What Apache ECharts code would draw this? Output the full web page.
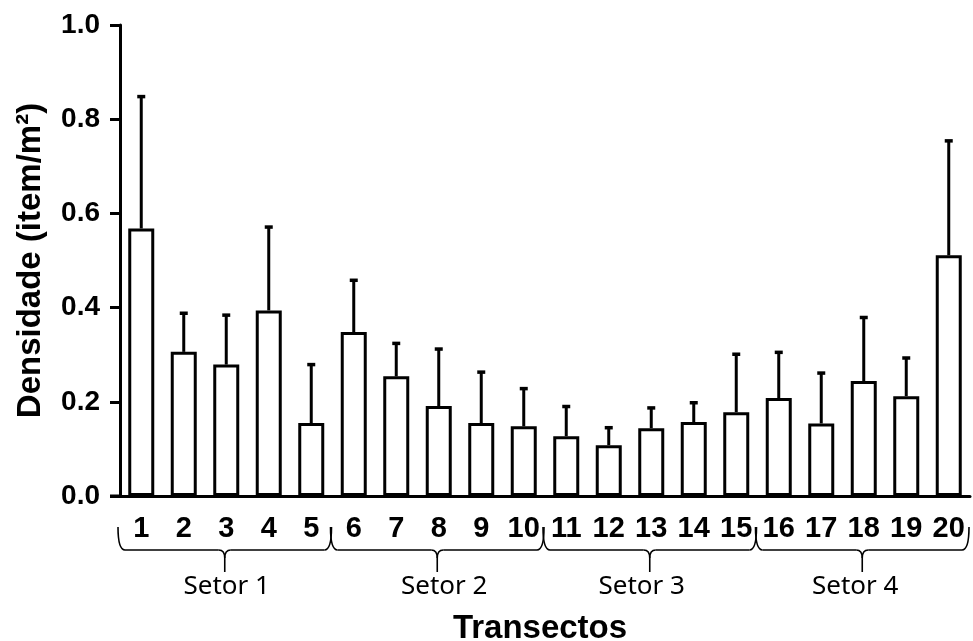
<!DOCTYPE html>
<html>
<head>
<meta charset="utf-8">
<script src="https://cdn.jsdelivr.net/npm/echarts@6/dist/echarts.min.js"></script>
<style>
  html, body { margin: 0; padding: 0; background: #fff; }
  #grafico { width: 973px; height: 641px; }
</style>
</head>
<body>
<div id="grafico"></div>
<script>
document.addEventListener("DOMContentLoaded", function () {

    // transectos 1..20
    var transectos = ['1', '2', '3', '4', '5', '6', '7', '8', '9', '10',
        '11', '12', '13', '14', '15', '16', '17', '18', '19', '20'];
    var densidade = [0.568, 0.306, 0.279, 0.394, 0.155, 0.348, 0.254, 0.191, 0.155, 0.148,
        0.127, 0.108, 0.144, 0.157, 0.178, 0.208, 0.154, 0.244, 0.212, 0.511];
    var erro = [0.280, 0.082, 0.105, 0.177, 0.124, 0.110, 0.070, 0.121, 0.108, 0.080,
        0.063, 0.037, 0.043, 0.041, 0.123, 0.097, 0.107, 0.135, 0.081, 0.243];
    var yTicks = [0, 0.2, 0.4, 0.6, 0.8, 1.0];

    // setores: primeiro e ultimo transecto (indice)
    var setores = ['Setor 1', 'Setor 2', 'Setor 3', 'Setor 4'];
    var setorInicio = [0, 5, 10, 15];
    var setorFim = [4, 9, 14, 19];

    var fonte = '"Liberation Sans", Arial, sans-serif';

    var chartDom = document.getElementById('grafico');
    var chart = echarts.init(chartDom, null, { renderer: 'canvas' });

    var erroData = densidade.map(function (v, i) {
        return [i, v, erro[i]];
    });

    var option = {
        animation: false,
        backgroundColor: '#fff',
        grid: {
            left: 120,
            right: 3,
            top: 25,
            bottom: 145,
            outerBoundsMode: 'none'
        },
        xAxis: {
            type: 'category',
            data: transectos,
            name: 'Transectos',
            nameLocation: 'middle',
            nameGap: 116,
            nameTextStyle: {
                fontFamily: fonte,
                fontWeight: 'bold',
                fontSize: 33,
                color: '#000',
                padding: [0, 10, 0, 0]
            },
            axisLine: { lineStyle: { color: '#000', width: 3 } },
            axisTick: { alignWithLabel: true, length: 10, lineStyle: { color: '#000', width: 3 } },
            axisLabel: {
                interval: 0,
                margin: 18,
                fontFamily: fonte,
                fontWeight: 'bold',
                fontSize: 29,
                color: '#000'
            },
            splitLine: { show: false }
        },
        yAxis: {
            type: 'value',
            min: yTicks[0],
            max: yTicks[yTicks.length - 1],
            interval: 0.2,
            name: 'Densidade (item/m²)',
            nameLocation: 'middle',
            nameRotate: 90,
            nameGap: 73,
            nameTextStyle: {
                fontFamily: fonte,
                fontWeight: 'bold',
                fontSize: 33,
                color: '#000'
            },
            axisLine: { show: true, lineStyle: { color: '#000', width: 3 } },
            axisTick: { show: true, length: 10, lineStyle: { color: '#000', width: 3 } },
            axisLabel: {
                margin: 20,
                fontFamily: fonte,
                fontWeight: 'bold',
                fontSize: 28,
                color: '#000',
                formatter: function (v) { return v.toFixed(1); }
            },
            splitLine: { show: false }
        },
        series: [
            {
                name: 'Densidade',
                type: 'bar',
                data: densidade,
                barWidth: 26,
                itemStyle: {
                    color: '#fff',
                    borderColor: '#000',
                    borderWidth: 3
                },
                z: 2
            },
            {
                name: 'Erro',
                type: 'custom',
                data: erroData,
                encode: { x: 0, y: 1 },
                renderItem: function (params, api) {
                    var base = api.coord([api.value(0), api.value(1)]);
                    var top = api.coord([api.value(0), api.value(1) + api.value(2)]);
                    var estilo = { stroke: '#000', lineWidth: 3 };
                    return {
                        type: 'group',
                        children: [
                            { type: 'line', shape: { x1: base[0], y1: base[1], x2: top[0], y2: top[1] }, style: estilo },
                            { type: 'line', shape: { x1: top[0] - 4, y1: top[1], x2: top[0] + 4, y2: top[1] }, style: { stroke: '#000', lineWidth: 3.5 } }
                        ]
                    };
                },
                z: 3
            }
        ]
    };
    chart.setOption(option);

    // chaves dos setores abaixo do eixo
    var c0 = chart.convertToPixel({ xAxisIndex: 0 }, 0);
    var c1 = chart.convertToPixel({ xAxisIndex: 0 }, 1);
    var passo = c1 - c0;
    var yTopo = 527, yLinha = 550, yPonta = 572;
    var ajusteTexto = [2, 7, -8, -7];
    var graficos = [];

    // eixo x se estende um pouco a esquerda do eixo y
    graficos.push({
        type: 'line',
        shape: { x1: 110, y1: 496, x2: 121, y2: 496 },
        style: { stroke: '#000', lineWidth: 3 }
    });

    setores.forEach(function (nome, k) {
        var xa = chart.convertToPixel({ xAxisIndex: 0 }, setorInicio[k]) - passo / 2 - 2;
        var xb = chart.convertToPixel({ xAxisIndex: 0 }, setorFim[k]) + passo / 2 - 1;
        var xm = (xa + xb) / 2;
        var est = { stroke: '#000', lineWidth: 1.6, fill: null };
        graficos.push(
            { type: 'bezierCurve', shape: { x1: xa, y1: yTopo, cpx1: xa, cpy1: yLinha, x2: xa + 7, y2: yLinha }, style: est },
            { type: 'line', shape: { x1: xa + 7, y1: yLinha, x2: xm - 6, y2: yLinha }, style: est },
            { type: 'bezierCurve', shape: { x1: xm - 6, y1: yLinha, cpx1: xm, cpy1: yLinha, x2: xm, y2: yLinha + 8 }, style: est },
            { type: 'bezierCurve', shape: { x1: xm + 6, y1: yLinha, cpx1: xm, cpy1: yLinha, x2: xm, y2: yLinha + 8 }, style: est },
            { type: 'line', shape: { x1: xm, y1: yLinha + 8, x2: xm, y2: yPonta }, style: est },
            { type: 'line', shape: { x1: xm + 6, y1: yLinha, x2: xb - 7, y2: yLinha }, style: est },
            { type: 'bezierCurve', shape: { x1: xb - 7, y1: yLinha, cpx1: xb, cpy1: yLinha, x2: xb, y2: yTopo }, style: est },
            {
                type: 'text',
                x: xm + ajusteTexto[k],
                y: 587,
                style: {
                    text: nome,
                    fontFamily: '"Noto Sans", sans-serif',
                    fontSize: 26,
                    fill: '#000',
                    align: 'center',
                    verticalAlign: 'middle'
                }
            }
        );
    });

    chart.setOption({ graphic: graficos });

    window.addEventListener('resize', function () {
        chart.resize();
    });
});
</script>
</body>
</html>
